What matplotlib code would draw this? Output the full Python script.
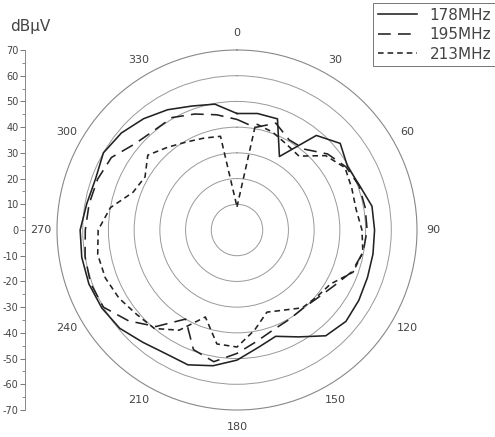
import numpy as np
import matplotlib.pyplot as plt
from matplotlib.ticker import FixedLocator, MultipleLocator

plt.rcParams['axes.unicode_minus'] = False

# field strength vs. azimuth, dBuV, sampled every 10 degrees
angles = np.arange(0, 360, 10)
f178 = [45.3, 46, 46, 33, 48, 52.4, 49.6, 50.7, 53.3, 53.5, 53.7, 54,
        54.7, 55.3, 53.7, 48, 44, 46.5, 50.6, 53.6, 55.8, 55.5, 57, 59.5,
        60.7, 61.3, 61.3, 61, 59.3, 58.5, 60, 58.7, 56.5, 54, 51.3, 49.7]
f195 = [43, 40.5, 44.2, 40.5, 41, 46, 49, 50.5, 50.6, 50.6, 49.8, 47.5,
        43.5, 41, 39.8, 40.3, 41.3, 44, 48, 52, 49.5, 40, 49, 55,
        60, 60.6, 60, 59, 58.4, 57.7, 56.4, 52, 50.4, 50.5, 48, 45.5]
f213 = [9, 42, 40.5, 38.5, 37.5, 45, 48.5, 47.5, 47, 48.6, 49.7, 48,
        42, 40.5, 39.5, 36, 34, 39.5, 45.5, 45, 36, 45, 50, 51,
        53, 54.5, 55, 54, 50, 43, 41.3, 45.3, 42, 39.5, 38, 37]
labels = ['178MHz', '195MHz', '213MHz']

def closed(vals):
    th = np.deg2rad(np.append(angles, angles[0]))
    return th, np.append(vals, vals[0])

fig = plt.figure(figsize=(4.95, 4.37), dpi=100)
pos = [57/495, 27/437, 360/495, 360/437]
ax = fig.add_axes(pos, projection='polar')
ax.set_theta_zero_location('N')
ax.set_theta_direction(-1)

lc = '#222222'
ax.plot(*closed(f178), color=lc, lw=1.15, label=labels[0])
ax.plot(*closed(f195), color=lc, lw=1.15, dashes=(8, 4.5), label=labels[1])
ax.plot(*closed(f213), color=lc, lw=1.15, dashes=(3.5, 2.5), label=labels[2])

ax.set_ylim(0, 70)
ax.set_rgrids([10, 20, 30, 40, 50, 60], labels=[])
ax.yaxis.grid(True, color='#999999', lw=0.7)
ax.xaxis.grid(False)
ax.spines['polar'].set_color('#888888')
ax.spines['polar'].set_linewidth(0.8)

ax.set_xticks(np.deg2rad(np.arange(0, 360, 30)))
ax.set_xticklabels([str(a) for a in range(0, 360, 30)])
ax.xaxis.set_minor_locator(FixedLocator(np.deg2rad(np.arange(15, 360, 30))))
ax.tick_params(axis='x', which='both', direction='in', length=5, width=0.7,
               color='#777777', labelsize=8, labelcolor='#444444', pad=5)

# vertical scale on the left
ay = fig.add_axes([25/495, 27/437, 0.001, 360/437])
ay.set_ylim(-70, 70)
ay.set_xticks([])
for s in ['top', 'right', 'bottom']:
    ay.spines[s].set_visible(False)
ay.spines['left'].set_color('#888888')
ay.spines['left'].set_linewidth(0.7)
ay.yaxis.set_major_locator(MultipleLocator(10))
ay.yaxis.set_minor_locator(MultipleLocator(5))
ay.tick_params(axis='y', which='major', length=3.5, width=0.7, color='#777777',
               labelsize=7, labelcolor='#444444', pad=1)
ay.tick_params(axis='y', which='minor', length=2, width=0.6, color='#777777')
ay.patch.set_visible(False)

fig.text(10/495, 1 - 31/437, 'dB\u03bcV', fontsize=11, color='#444444',
         va='baseline', ha='left')

leg = fig.legend(loc='upper left', bbox_to_anchor=(373/495, 1 - 3/437),
                 borderaxespad=0, fontsize=11, handlelength=2.6,
                 handletextpad=0.8, labelspacing=0.3, borderpad=0.3,
                 fancybox=False, framealpha=1)
leg.get_frame().set_edgecolor('#777777')
leg.get_frame().set_linewidth(0.7)
for t in leg.get_texts():
    t.set_color('#444444')

fig.savefig('out.png', dpi=100)
